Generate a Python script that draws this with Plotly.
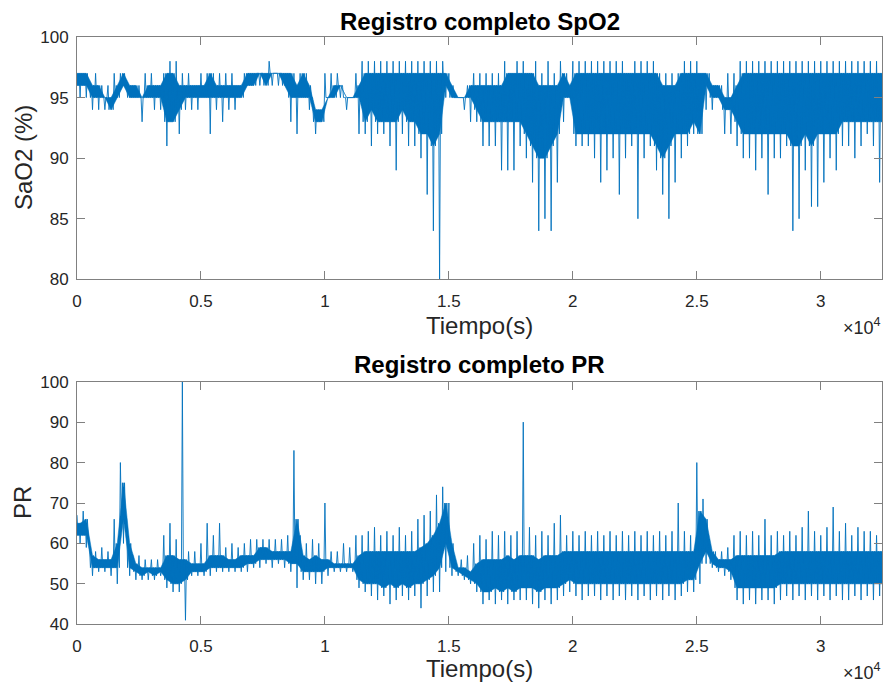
import numpy as np
import plotly.graph_objects as go

# Overnight oximetry record, summarised in 250 s bins.
# For every bin: highest excursion, upper edge of the dense core,
# lower edge of the dense core, lowest excursion.
BIN_S = 250
T_END = 32470

spo2_max = [97, 97, 96, 97, 96, 96, 97, 97, 96, 96, 96, 97, 97, 96, 97, 98, 98, 97, 97, 96,
            97, 97, 97, 97, 97, 97, 96, 97, 97, 97, 97, 98, 97, 97, 97, 97, 97, 97, 95, 94,
            97, 97, 97, 95, 95, 97, 98, 98, 98, 98, 98, 98, 98, 98, 98, 98, 98, 98, 98, 98,
            97, 95, 95, 96, 97, 97, 97, 97, 97, 98, 97, 98, 98, 97, 98, 97, 98, 97, 98, 97,
            98, 98, 98, 98, 98, 98, 98, 98, 98, 97, 98, 98, 98, 98, 97, 97, 97, 97, 98, 98,
            98, 97, 97, 96, 96, 97, 97, 98, 98, 98, 98, 98, 98, 98, 98, 98, 98, 98, 98, 98,
            98, 98, 98, 98, 98, 98, 98, 98, 98, 98]
spo2_core_hi = [97, 97, 96, 96, 95, 95, 96, 97, 96, 96, 95, 96, 96, 96, 97, 97, 96, 96, 96, 96,
                96, 97, 96, 96, 96, 96, 96, 97, 97, 97, 97, 97, 97, 97, 97, 96, 97, 96, 94, 94,
                95, 96, 96, 95, 95, 96, 97, 97, 97, 97, 97, 97, 97, 97, 97, 97, 97, 97, 97, 97,
                96, 95, 95, 96, 96, 96, 96, 96, 96, 97, 97, 97, 97, 97, 96, 96, 96, 96, 97, 96,
                97, 97, 97, 97, 97, 97, 97, 97, 97, 97, 97, 97, 97, 97, 96, 96, 96, 97, 97, 97,
                97, 97, 96, 96, 95, 95, 96, 97, 97, 97, 97, 97, 97, 97, 97, 97, 97, 97, 97, 97,
                97, 97, 97, 97, 97, 97, 97, 97, 97, 97]
spo2_core_lo = [96, 96, 95, 95, 95, 94, 95, 96, 95, 95, 95, 95, 95, 95, 93, 93, 94, 95, 95, 95,
                95, 95, 95, 95, 95, 95, 95, 96, 96, 97, 96, 97, 97, 96, 95, 95, 95, 95, 93, 93,
                95, 95, 96, 95, 95, 95, 93, 94, 93, 93, 93, 93, 94, 93, 93, 92, 92, 91, 92, 96,
                95, 95, 95, 95, 94, 93, 93, 93, 93, 93, 93, 93, 92, 91, 90, 90, 91, 92, 95, 95,
                92, 92, 92, 92, 92, 92, 92, 92, 92, 92, 92, 92, 92, 91, 90, 91, 92, 92, 92, 93,
                92, 96, 95, 95, 94, 94, 93, 92, 92, 92, 92, 92, 92, 92, 92, 91, 91, 92, 91, 92,
                92, 92, 92, 93, 93, 93, 93, 93, 93, 93]
spo2_min = [95, 95, 94, 94, 94, 94, 95, 96, 95, 95, 93, 95, 94, 94, 91, 93, 92, 94, 94, 94,
            95, 92, 94, 93, 94, 94, 95, 96, 96, 96, 96, 96, 96, 96, 93, 92, 95, 94, 92, 93,
            95, 95, 95, 94, 95, 92, 92, 91, 92, 92, 91, 89, 92, 91, 91, 90, 87, 84, 80, 95,
            95, 95, 94, 93, 93, 91, 91, 91, 89, 89, 89, 91, 90, 88, 84, 85, 84, 88, 93, 95,
            91, 91, 91, 90, 88, 89, 90, 87, 90, 91, 85, 90, 91, 89, 87, 85, 88, 90, 91, 92,
            92, 94, 94, 95, 92, 92, 91, 90, 90, 89, 90, 87, 90, 90, 91, 84, 85, 89, 86, 86,
            88, 90, 89, 91, 91, 90, 91, 92, 91, 88]

pr_max = [67, 68, 60, 58, 59, 58, 66, 80, 66, 57, 57, 56, 56, 56, 62, 65, 61, 100, 58, 58,
          60, 65, 62, 65, 59, 60, 59, 60, 61, 61, 61, 61, 61, 61, 62, 83, 62, 60, 61, 60,
          70, 58, 58, 60, 59, 62, 62, 63, 64, 62, 63, 62, 64, 62, 63, 66, 67, 68, 72, 74,
          70, 55, 56, 57, 60, 62, 61, 63, 62, 63, 62, 63, 90, 64, 62, 63, 62, 65, 67, 62,
          63, 62, 63, 62, 63, 62, 63, 62, 63, 62, 63, 62, 63, 62, 63, 62, 63, 70, 63, 62,
          80, 71, 60, 58, 58, 59, 62, 63, 62, 63, 62, 66, 62, 63, 62, 63, 62, 64, 68, 63,
          62, 64, 69, 63, 65, 62, 64, 63, 63, 62]
pr_core_hi = [65, 66, 57, 56, 56, 56, 60, 75, 60, 55, 54, 54, 54, 54, 57, 57, 56, 56, 55, 55,
              55, 57, 57, 57, 56, 56, 57, 57, 57, 59, 59, 58, 58, 58, 58, 66, 57, 56, 57, 56,
              56, 55, 55, 55, 55, 57, 58, 58, 58, 58, 58, 58, 58, 58, 58, 59, 60, 62, 65, 70,
              60, 54, 54, 53, 55, 56, 56, 56, 56, 57, 56, 57, 57, 57, 56, 57, 57, 57, 58, 58,
              58, 58, 58, 58, 58, 58, 58, 58, 58, 58, 58, 58, 58, 58, 58, 58, 58, 58, 58, 58,
              68, 66, 58, 56, 56, 56, 57, 57, 57, 57, 57, 57, 57, 58, 58, 58, 58, 58, 58, 58,
              58, 58, 58, 58, 58, 58, 58, 58, 58, 58]
pr_core_lo = [62, 62, 54, 54, 54, 54, 54, 66, 54, 53, 52, 53, 52, 53, 51, 50, 50, 51, 53, 53,
              53, 54, 54, 54, 54, 54, 54, 55, 55, 56, 56, 56, 56, 56, 55, 55, 53, 53, 53, 53,
              54, 54, 54, 54, 54, 51, 50, 50, 50, 49, 50, 49, 50, 49, 50, 50, 51, 52, 54, 60,
              54, 53, 52, 51, 50, 48, 48, 49, 48, 49, 48, 49, 49, 49, 48, 49, 49, 49, 50, 51,
              50, 50, 50, 50, 50, 50, 50, 50, 50, 50, 50, 50, 50, 50, 50, 50, 50, 50, 51, 51,
              55, 58, 55, 54, 54, 53, 49, 49, 49, 49, 49, 49, 49, 50, 50, 50, 50, 50, 50, 50,
              50, 50, 50, 50, 50, 50, 50, 50, 50, 50]
pr_min = [60, 59, 52, 53, 53, 52, 50, 60, 52, 51, 51, 51, 51, 52, 49, 48, 48, 41, 52, 52,
          52, 52, 53, 53, 53, 53, 53, 53, 54, 54, 55, 54, 55, 54, 53, 49, 51, 51, 50, 50,
          52, 53, 53, 53, 53, 49, 48, 47, 46, 47, 45, 46, 47, 46, 47, 44, 47, 48, 48, 53,
          52, 52, 51, 50, 48, 45, 46, 45, 46, 45, 46, 46, 46, 45, 44, 46, 45, 46, 47, 48,
          47, 46, 47, 47, 46, 47, 46, 47, 46, 47, 46, 47, 46, 47, 46, 47, 46, 47, 48, 48,
          50, 55, 54, 53, 52, 51, 46, 45, 46, 45, 46, 46, 45, 46, 47, 46, 47, 46, 47, 46,
          47, 46, 47, 46, 46, 47, 46, 47, 46, 47]

x_tick_vals = [0, 5000, 10000, 15000, 20000, 25000, 30000]
x_tick_text = ["0", "0.5", "1", "1.5", "2", "2.5", "3"]

W, H = 883, 686
LINE_BLUE = "#0072BD"
AXIS_GREY = "#808080"
TEXT_DARK = "#262626"
FONT = "Liberation Sans, Arial, Helvetica, sans-serif"


def trace_xy(mx, c_hi, c_lo, mn):
    """Expand per-bin summaries into a polyline that sweeps each bin."""
    y = []
    for a, b, c, d in zip(mx, c_hi, c_lo, mn):
        y += [a, c, b, d, b, c]
    y = np.asarray(y, dtype=float)
    x = np.arange(len(y)) * (BIN_S / 6.0)
    keep = x <= T_END
    return x[keep], y[keep]


def core_band(c_hi, c_lo):
    """Closed outline of the dense core through the bin centres."""
    n = len(c_hi)
    centres = np.minimum((np.arange(n) + 0.5) * BIN_S, T_END)
    xs = [0.0] + list(centres) + [float(T_END)]
    top = [c_hi[0]] + list(c_hi) + [c_hi[-1]]
    bot = [c_lo[0]] + list(c_lo) + [c_lo[-1]]
    return xs + xs[::-1], top + bot[::-1]


def px_x(px):
    return px / W


def px_y(py):
    return 1 - py / H


line_style = dict(color=LINE_BLUE, width=0.9, simplify=False)

fig = go.Figure()
for mx, chi, clo, mn, xa, ya in [
    (spo2_max, spo2_core_hi, spo2_core_lo, spo2_min, "x", "y"),
    (pr_max, pr_core_hi, pr_core_lo, pr_min, "x2", "y2"),
]:
    bx, by = core_band(chi, clo)
    fig.add_trace(go.Scatter(x=bx, y=by, mode="lines", fill="toself", fillcolor=LINE_BLUE,
                             line=dict(color=LINE_BLUE, width=0.5),
                             xaxis=xa, yaxis=ya, showlegend=False, hoverinfo="skip"))
    lx, ly = trace_xy(mx, chi, clo, mn)
    fig.add_trace(go.Scatter(x=lx, y=ly, mode="lines", line=line_style,
                             xaxis=xa, yaxis=ya, showlegend=False, hoverinfo="skip"))

axis_style = dict(
    showgrid=False, zeroline=False, showline=True, linecolor=AXIS_GREY, linewidth=1,
    mirror="ticks", ticks="inside", ticklen=8, tickwidth=1, tickcolor=AXIS_GREY,
    automargin=False,
    tickfont=dict(family=FONT, size=17, color=TEXT_DARK),
)
x_dom = [px_x(77), px_x(882)]

fig.update_layout(
    width=W, height=H, margin=dict(l=0, r=0, t=0, b=0, autoexpand=False),
    paper_bgcolor="white", plot_bgcolor="white",
    xaxis=dict(axis_style, domain=x_dom, range=[0, T_END], anchor="y",
               tickvals=x_tick_vals, ticktext=x_tick_text, ticklabelstandoff=6),
    yaxis=dict(axis_style, domain=[px_y(279.3), px_y(37)], range=[80, 100], anchor="x",
               tickvals=[80, 85, 90, 95, 100], ticklabelstandoff=4),
    xaxis2=dict(axis_style, domain=x_dom, range=[0, T_END], anchor="y2",
                tickvals=x_tick_vals, ticktext=x_tick_text, ticklabelstandoff=6),
    yaxis2=dict(axis_style, domain=[px_y(624.3), px_y(381.7)], range=[40, 100], anchor="x2",
                tickvals=[40, 50, 60, 70, 80, 90, 100], ticklabelstandoff=4),
)


def note(text, x, y, size, bold=False, angle=0, xanchor="center", yanchor="middle"):
    fig.add_annotation(
        text=f"<b>{text}</b>" if bold else text,
        x=px_x(x), y=px_y(y), xref="paper", yref="paper",
        xanchor=xanchor, yanchor=yanchor, showarrow=False, textangle=angle,
        font=dict(family=FONT, size=size, color="black" if bold else TEXT_DARK),
    )


note("Registro completo SpO2", 480, 22, 24, bold=True)
note("Registro completo PR", 480, 364, 24, bold=True)
note("Tiempo(s)", 480, 325, 24)
note("Tiempo(s)", 480, 668, 24)
note("SaO2 (%)", 23, 158, 24, angle=-90)
note("PR", 22, 503, 24, angle=-90)
note("×10<sup>4</sup>", 883, 326, 18, xanchor="right")
note("×10<sup>4</sup>", 883, 671, 18, xanchor="right")

fig.write_html("out.html")
